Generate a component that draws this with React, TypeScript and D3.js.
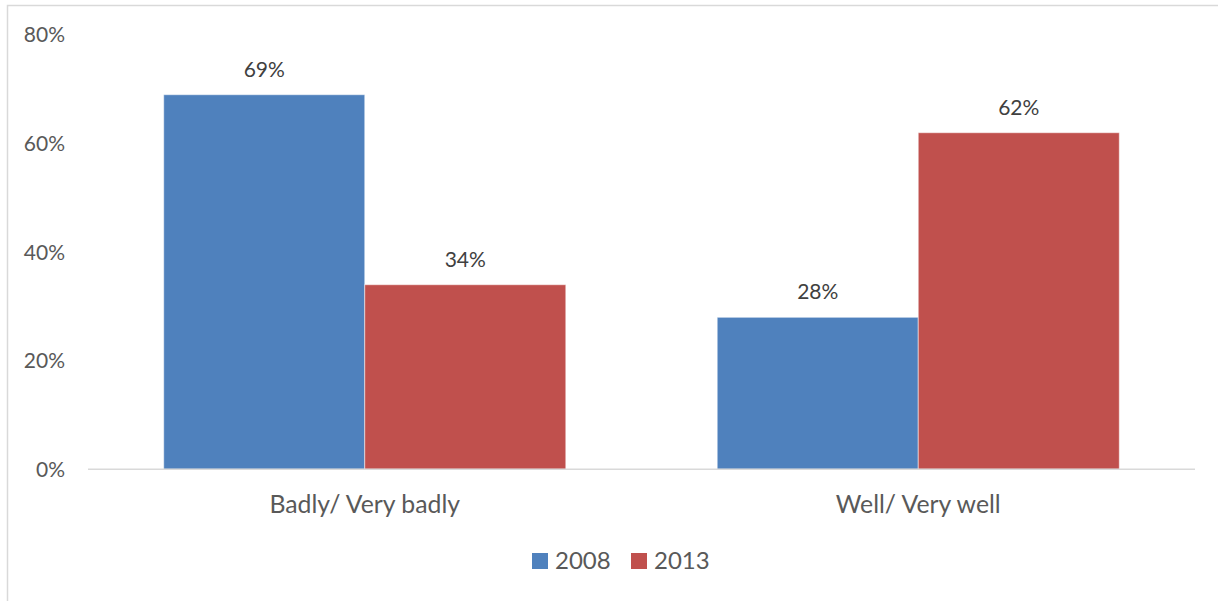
import React from "react";
import * as d3 from "d3";

const categories = ["Badly/ Very badly", "Well/ Very well"];
const seriesNames = ["2008", "2013"];
const values2008 = [0.69, 0.28];
const values2013 = [0.34, 0.62];
const yTicks = [0, 0.2, 0.4, 0.6, 0.8];
const colors = ["#4F81BD", "#C0504D"];

const W = 1218;
const H = 601;
const FONT = "Lato, 'Open Sans', sans-serif";
const TEXT = "#595959";

export default function App() {
  const left = 88, right = 1195, top = 35, bottom = 469.3;
  const x0 = d3.scaleBand<string>().domain(categories).range([left, right]).paddingInner(0.2736).paddingOuter(0.1368);
  const x1 = d3.scaleBand<string>().domain(seriesNames).range([0, x0.bandwidth()]);
  const y = d3.scaleLinear().domain([0, 0.8]).range([bottom, top]);
  const series = [values2008, values2013];
  const fmt = d3.format(".0%");

  return (
    <div style={{ position: "fixed", left: 0, top: 0 }}>
      <svg width={W} height={H} style={{ display: "block", background: "#fff" }}>
        <rect x={7.5} y={5.5} width={1400} height={800} fill="#fff" stroke="#D9D9D9" strokeWidth={1.5} />
        {yTicks.map((t) => (
          <text key={t} x={65} y={y(t)} dy="0.35em" textAnchor="end" fontFamily={FONT} fontSize={21} fill={TEXT}>
            {fmt(t)}
          </text>
        ))}
        {categories.map((c, ci) =>
          seriesNames.map((s, si) => {
            const v = series[si][ci];
            const bx = (x0(c) ?? 0) + (x1(s) ?? 0);
            return (
              <g key={c + s}>
                <rect x={bx} y={y(v)} width={x1.bandwidth()} height={bottom - y(v)} fill={colors[si]} stroke="#fff" strokeOpacity={0.5} strokeWidth={1} />
                <text x={bx + x1.bandwidth() / 2} y={y(v) - 18} textAnchor="middle" fontFamily={FONT} fontSize={21} fill="#404040">
                  {fmt(v)}
                </text>
              </g>
            );
          })
        )}
        <line x1={left} x2={right} y1={bottom} y2={bottom} stroke="#D9D9D9" strokeWidth={1.5} />
        {categories.map((c) => (
          <text key={c} x={(x0(c) ?? 0) + x0.bandwidth() / 2} y={504} dy="0.35em" textAnchor="middle" fontFamily={FONT} fontSize={24.8} fill={TEXT}>
            {c}
          </text>
        ))}
        {seriesNames.map((s, i) => {
          const lx = 532 + i * 99;
          return (
            <g key={s}>
              <rect x={lx} y={553} width={16} height={16} fill={colors[i]} />
              <text x={lx + 23} y={561} dy="0.35em" fontFamily={FONT} fontSize={24} fill={TEXT}>
                {s}
              </text>
            </g>
          );
        })}
      </svg>
    </div>
  );
}
